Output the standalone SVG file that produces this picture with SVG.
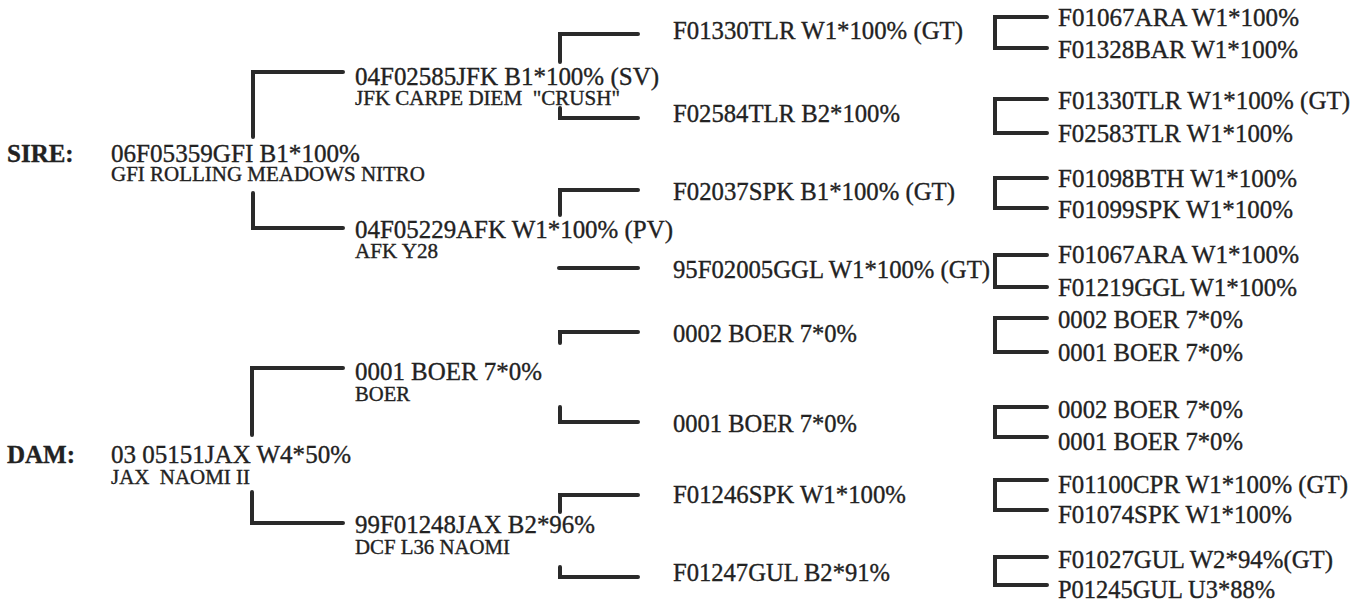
<svg xmlns="http://www.w3.org/2000/svg" width="1359" height="601" viewBox="0 0 1359 601">
<style>
text{font-family:"Liberation Serif","Times New Roman",serif;fill:#222;stroke:#222;stroke-width:0.35}
.m{font-size:25px}
.s{font-size:20.5px}
.b{font-size:25px;font-weight:bold}
.c path{fill:none;stroke:#2a2a2a;stroke-width:4;stroke-linejoin:miter;stroke-linecap:round}
</style>
<rect width="1359" height="601" fill="#fff"/>
<g class="c" id="connectors">
<path d="M253 137V72H343"/>
<path d="M253 193V228H343"/>
<path d="M252 435V368H343"/>
<path d="M252 492V523H343"/>
<path d="M560 62V34H638"/>
<path d="M560 108V118H638"/>
<path d="M560 215V190H638"/>
<path d="M559 268H638"/>
<path d="M560 343V332H638"/>
<path d="M560 407V422H638"/>
<path d="M560 512V495H638"/>
<path d="M560 567V577H638"/>
<path d="M1047 17H995V48H1047"/>
<path d="M1047 99H995V133H1047"/>
<path d="M1047 178H995V208H1047"/>
<path d="M1047 255H995V287H1047"/>
<path d="M1047 318H995V352H1047"/>
<path d="M1047 407H995V437H1047"/>
<path d="M1047 480H995V510H1047"/>
<path d="M1047 557H995V585H1047"/>
</g>
<g id="sire"><text class="b" x="7" y="162">SIRE:</text><text class="m" x="111" y="162" textLength="249" lengthAdjust="spacingAndGlyphs">06F05359GFI B1*100%</text><text class="s" x="111" y="181" textLength="314" lengthAdjust="spacingAndGlyphs">GFI ROLLING MEADOWS NITRO</text></g>
<g id="dam"><text class="b" x="7" y="463">DAM:</text><text class="m" x="111" y="463" textLength="240" lengthAdjust="spacingAndGlyphs">03 05151JAX W4*50%</text><text class="s" x="111" y="484" textLength="139" lengthAdjust="spacingAndGlyphs" xml:space="preserve">JAX  NAOMI II</text></g>
<g id="ss"><text class="m" x="355" y="85" textLength="304" lengthAdjust="spacingAndGlyphs">04F02585JFK B1*100% (SV)</text><text class="s" x="355" y="105" textLength="265" lengthAdjust="spacingAndGlyphs" xml:space="preserve">JFK CARPE DIEM  "CRUSH"</text></g>
<g id="sd"><text class="m" x="355" y="238" textLength="318" lengthAdjust="spacingAndGlyphs">04F05229AFK W1*100% (PV)</text><text class="s" x="355" y="258" textLength="83" lengthAdjust="spacingAndGlyphs">AFK Y28</text></g>
<g id="ds"><text class="m" x="355" y="380" textLength="187" lengthAdjust="spacingAndGlyphs">0001 BOER 7*0%</text><text class="s" x="355" y="401" textLength="55" lengthAdjust="spacingAndGlyphs">BOER</text></g>
<g id="dd"><text class="m" x="355" y="533" textLength="240" lengthAdjust="spacingAndGlyphs">99F01248JAX B2*96%</text><text class="s" x="355" y="554" textLength="155" lengthAdjust="spacingAndGlyphs">DCF L36 NAOMI</text></g>
<g id="sss"><text class="m" x="673" y="39" textLength="290" lengthAdjust="spacingAndGlyphs">F01330TLR W1*100% (GT)</text></g>
<g id="ssd"><text class="m" x="673" y="122" textLength="227" lengthAdjust="spacingAndGlyphs">F02584TLR B2*100%</text></g>
<g id="sds"><text class="m" x="673" y="200" textLength="282" lengthAdjust="spacingAndGlyphs">F02037SPK B1*100% (GT)</text></g>
<g id="sdd"><text class="m" x="673" y="278" textLength="317" lengthAdjust="spacingAndGlyphs">95F02005GGL W1*100% (GT)</text></g>
<g id="dss"><text class="m" x="673" y="342" textLength="184" lengthAdjust="spacingAndGlyphs">0002 BOER 7*0%</text></g>
<g id="dsd"><text class="m" x="673" y="432" textLength="184" lengthAdjust="spacingAndGlyphs">0001 BOER 7*0%</text></g>
<g id="dds"><text class="m" x="673" y="503" textLength="233" lengthAdjust="spacingAndGlyphs">F01246SPK W1*100%</text></g>
<g id="ddd"><text class="m" x="673" y="581" textLength="217" lengthAdjust="spacingAndGlyphs">F01247GUL B2*91%</text></g>
<g id="g4-1"><text class="m" x="1058" y="26" textLength="241" lengthAdjust="spacingAndGlyphs">F01067ARA W1*100%</text></g>
<g id="g4-2"><text class="m" x="1058" y="58" textLength="240" lengthAdjust="spacingAndGlyphs">F01328BAR W1*100%</text></g>
<g id="g4-3"><text class="m" x="1058" y="109" textLength="292" lengthAdjust="spacingAndGlyphs">F01330TLR W1*100% (GT)</text></g>
<g id="g4-4"><text class="m" x="1058" y="142" textLength="235" lengthAdjust="spacingAndGlyphs">F02583TLR W1*100%</text></g>
<g id="g4-5"><text class="m" x="1058" y="187" textLength="239" lengthAdjust="spacingAndGlyphs">F01098BTH W1*100%</text></g>
<g id="g4-6"><text class="m" x="1058" y="218" textLength="235" lengthAdjust="spacingAndGlyphs">F01099SPK W1*100%</text></g>
<g id="g4-7"><text class="m" x="1058" y="263" textLength="241" lengthAdjust="spacingAndGlyphs">F01067ARA W1*100%</text></g>
<g id="g4-8"><text class="m" x="1058" y="296" textLength="239" lengthAdjust="spacingAndGlyphs">F01219GGL W1*100%</text></g>
<g id="g4-9"><text class="m" x="1058" y="328" textLength="185" lengthAdjust="spacingAndGlyphs">0002 BOER 7*0%</text></g>
<g id="g4-10"><text class="m" x="1058" y="361" textLength="185" lengthAdjust="spacingAndGlyphs">0001 BOER 7*0%</text></g>
<g id="g4-11"><text class="m" x="1058" y="418" textLength="185" lengthAdjust="spacingAndGlyphs">0002 BOER 7*0%</text></g>
<g id="g4-12"><text class="m" x="1058" y="450" textLength="185" lengthAdjust="spacingAndGlyphs">0001 BOER 7*0%</text></g>
<g id="g4-13"><text class="m" x="1058" y="493" textLength="290" lengthAdjust="spacingAndGlyphs">F01100CPR W1*100% (GT)</text></g>
<g id="g4-14"><text class="m" x="1058" y="523" textLength="234" lengthAdjust="spacingAndGlyphs">F01074SPK W1*100%</text></g>
<g id="g4-15"><text class="m" x="1058" y="568" textLength="275" lengthAdjust="spacingAndGlyphs">F01027GUL W2*94%(GT)</text></g>
<g id="g4-16"><text class="m" x="1058" y="598" textLength="217" lengthAdjust="spacingAndGlyphs">P01245GUL U3*88%</text></g>
</svg>
